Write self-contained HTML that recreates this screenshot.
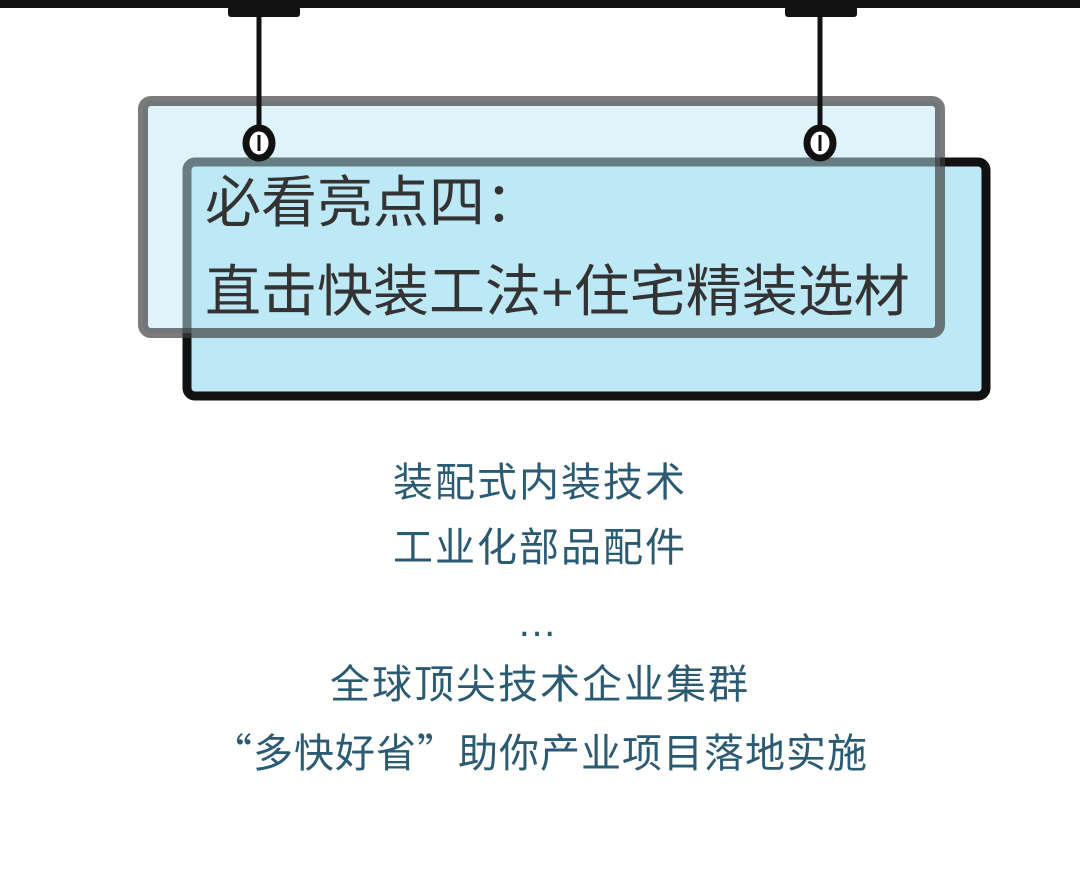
<!DOCTYPE html>
<html><head><meta charset="utf-8"><style>
html,body{margin:0;padding:0;background:#fff;}
body{width:1080px;height:871px;position:relative;overflow:hidden;font-family:"Liberation Sans","Noto Sans CJK SC",sans-serif;}
.l{position:absolute;left:0;width:1080px;text-align:center;color:#2b5a73;font-size:40px;letter-spacing:2px;line-height:50px;}
.t{position:absolute;color:#333;font-size:56px;line-height:60px;left:205px;letter-spacing:0px;}
.q{font-family:"Noto Sans CJK SC",sans-serif;}
</style></head><body>
<svg width="1080" height="871" style="position:absolute;left:0;top:0">
  <rect x="0" y="0" width="1080" height="8" fill="#111"/>
  <rect x="228" y="6" width="72" height="11" rx="3" fill="#111"/>
  <rect x="785" y="6" width="72" height="11" rx="3" fill="#111"/>
  <rect x="187" y="162" width="799" height="234" rx="8" fill="#bde8f6" stroke="#111" stroke-width="9"/>
  <rect x="143" y="101" width="797" height="232" rx="8" fill="rgba(190,232,246,0.5)" stroke="rgba(60,60,60,0.68)" stroke-width="10"/>
  <line x1="259" y1="10" x2="259" y2="128" stroke="#111" stroke-width="5"/>
  <line x1="820" y1="10" x2="820" y2="128" stroke="#111" stroke-width="5"/>
  <ellipse cx="259" cy="143" rx="13" ry="15" fill="#fff" stroke="#111" stroke-width="7"/>
  <ellipse cx="820" cy="143" rx="13" ry="15" fill="#fff" stroke="#111" stroke-width="7"/>
  <line x1="259" y1="135" x2="259" y2="151" stroke="#111" stroke-width="3"/>
  <line x1="820" y1="135" x2="820" y2="151" stroke="#111" stroke-width="3"/>
</svg>
<div class="t" style="top:173px">必看亮点四：</div>
<div class="t" style="top:262px">直击快装工法+住宅精装选材</div>
<div class="l" style="top:458px">装配式内装技术</div>
<div class="l" style="top:523px">工业化部品配件</div>
<div class="l" style="top:598px;letter-spacing:6px">…</div>
<div class="l" style="top:660px">全球顶尖技术企业集群</div>
<div class="l" style="top:725px;letter-spacing:1px"><span class="q">“</span>多快好省<span class="q">”</span>助你产业项目落地实施</div>
</body></html>
